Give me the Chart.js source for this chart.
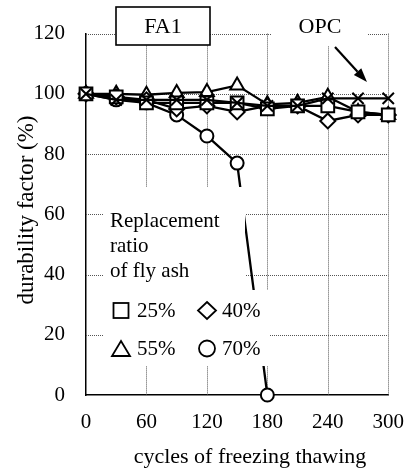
<!DOCTYPE html>
<html>
<head>
<meta charset="utf-8">
<script src="https://cdn.jsdelivr.net/npm/chart.js@4/dist/chart.umd.min.js"></script>
<style>
  html, body { margin: 0; padding: 0; background: #fff; }
  #c { display: block; }
</style>
</head>
<body>
<canvas id="c" width="419" height="473"></canvas>
<script>
// ---- data ----
const cycles = [0, 30, 60, 90, 120, 150, 180, 210, 240, 270, 300];
const fa25 = [100, 99, 97, 97, 97, 97, 95, 96, 96, 94, 93];
const fa40 = [100, 99, 98, 95, 96, 94, 96, 96, 91, 93, 93];
const fa55 = [100, 100, 99.7, 100.3, 100.6, 102.8, 96.5, 97, 99, 94, 93];
const fa70 = [100, 98, 97, 93, 86, 77, 0];
const opc = [100, 98, 98, 98, 98, 97, 96, 96, 98.5, 98.5, 98.5];
const xTicks = [0, 60, 120, 180, 240, 300];
const yTicks = [0, 20, 40, 60, 80, 100, 120];
const legendItems = ['25%', '40%', '55%', '70%'];
const xTitle = 'cycles of freezing thawing';
const yTitle = 'durability factor (%)';

const FONT = 'Liberation Serif, Times New Roman, serif';
const pts = arr => arr.map((v, i) => ({ x: cycles[i], y: v }));

function ds(label, arr, style, r) {
  return {
    label, data: pts(arr), borderColor: '#000', borderWidth: 2.3,
    pointStyle: style, pointRadius: r, pointHoverRadius: r,
    pointBackgroundColor: '#fff', pointBorderColor: '#000', pointBorderWidth: 2,
    tension: 0, clip: false
  };
}

const gridPlugin = {
  id: 'dotgrid',
  beforeDatasetsDraw(chart) {
    const ctx = chart.ctx;
    const xs = chart.scales.x, ys = chart.scales.y;
    const a = chart.chartArea;
    ctx.save();
    ctx.strokeStyle = '#555';
    ctx.lineWidth = 1;
    ctx.setLineDash([1, 1]);
    xTicks.forEach(v => {
      if (v === 0) return;
      const px = Math.round(xs.getPixelForValue(v)) + 0.5;
      ctx.beginPath(); ctx.moveTo(px, a.top); ctx.lineTo(px, a.bottom); ctx.stroke();
    });
    yTicks.forEach(v => {
      if (v === 0) return;
      const py = Math.round(ys.getPixelForValue(v)) + 0.5;
      ctx.beginPath(); ctx.moveTo(a.left, py); ctx.lineTo(a.right, py); ctx.stroke();
    });
    ctx.restore();
  }
};

const overlay = {
  id: 'overlay',
  afterDatasetsDraw(chart) {
    const ctx = chart.ctx;
    ctx.save();
    // axis titles
    ctx.fillStyle = '#000';
    ctx.font = '22px ' + FONT;
    ctx.textAlign = 'center';
    ctx.textBaseline = 'middle';
    ctx.fillText(xTitle, 250, 457);
    ctx.save();
    ctx.font = '23px ' + FONT;
    ctx.translate(27, 210);
    ctx.rotate(-Math.PI / 2);
    ctx.fillText(yTitle, 0, 0);
    ctx.restore();

    // legend white areas
    ctx.fillStyle = '#fff';
    ctx.fillRect(103, 187, 142, 103);
    ctx.fillRect(103, 290, 166, 76);
    ctx.fillStyle = '#000';
    ctx.font = '21px ' + FONT;
    ctx.textBaseline = 'middle';
    ctx.textAlign = 'left';
    ctx.fillText('Replacement', 110, 221);
    ctx.fillText('ratio', 110, 246);
    ctx.fillText('of fly ash', 110, 271);
    // legend markers
    ctx.strokeStyle = '#000';
    ctx.lineWidth = 1.8;
    ctx.strokeRect(113.5, 303, 15, 15);
    ctx.beginPath();
    ctx.moveTo(207, 302); ctx.lineTo(216, 310.5); ctx.lineTo(207, 319); ctx.lineTo(198, 310.5); ctx.closePath();
    ctx.stroke();
    ctx.beginPath();
    ctx.moveTo(121, 341); ctx.lineTo(130, 356); ctx.lineTo(112, 356); ctx.closePath();
    ctx.stroke();
    ctx.beginPath();
    ctx.arc(207, 348.5, 8, 0, Math.PI * 2);
    ctx.stroke();
    ctx.fillText(legendItems[0], 137, 311);
    ctx.fillText(legendItems[1], 222, 311);
    ctx.fillText(legendItems[2], 137, 349);
    ctx.fillText(legendItems[3], 222, 349);

    // FA1 box
    ctx.fillStyle = '#fff';
    ctx.fillRect(116, 7, 94, 38);
    ctx.lineWidth = 1.6;
    ctx.strokeRect(116, 7, 94, 38);
    ctx.fillStyle = '#000';
    ctx.font = '22px ' + FONT;
    ctx.textAlign = 'center';
    ctx.fillText('FA1', 163, 27);

    // OPC label
    ctx.fillStyle = '#fff';
    ctx.fillRect(271, 0, 97, 46);
    ctx.fillStyle = '#000';
    ctx.fillText('OPC', 320, 27);
    // arrow
    const x0 = 335, y0 = 47, x1 = 367, y1 = 82;
    const ang = Math.atan2(y1 - y0, x1 - x0);
    const hl = 14, hw = 5;
    const bx = x1 - hl * Math.cos(ang), by = y1 - hl * Math.sin(ang);
    ctx.lineWidth = 2.2;
    ctx.beginPath(); ctx.moveTo(x0, y0); ctx.lineTo(bx, by); ctx.stroke();
    ctx.beginPath();
    ctx.moveTo(x1, y1);
    ctx.lineTo(bx + hw * Math.sin(ang), by - hw * Math.cos(ang));
    ctx.lineTo(bx - hw * Math.sin(ang), by + hw * Math.cos(ang));
    ctx.closePath(); ctx.fill();
    ctx.restore();
  }
};

new Chart(document.getElementById('c'), {
  type: 'line',
  data: {
    datasets: [
      ds('OPC', opc, 'crossRot', 8),
      ds('25%', fa25, 'rect', 9),
      ds('40%', fa40, 'rectRot', 7.5),
      ds('55%', fa55, 'triangle', 8),
      ds('70%', fa70, 'circle', 6.5)
    ]
  },
  options: {
    responsive: false,
    animation: false,
    events: [],
    layout: { padding: { top: 16, right: 23, left: 0, bottom: 0 } },
    plugins: { legend: { display: false }, tooltip: { enabled: false } },
    scales: {
      x: {
        type: 'linear', min: 0, max: 300,
        afterBuildTicks: s => { s.ticks = xTicks.map(v => ({ value: v })); },
        afterFit: s => { s.height = 78; },
        grid: { display: false, drawTicks: false },
        border: { color: '#000', width: 1.5 },
        ticks: { color: '#000', padding: 15, font: { family: FONT, size: 21, lineHeight: 1.2 }, maxRotation: 0 }
      },
      y: {
        type: 'linear', min: 0, max: 120,
        afterBuildTicks: s => { s.ticks = yTicks.map(v => ({ value: v })); },
        afterFit: s => { s.width = 86; },
        grid: { display: false, drawTicks: false },
        border: { color: '#000', width: 1.5 },
        ticks: { color: '#000', padding: 21, font: { family: FONT, size: 21, lineHeight: 1.2 } }
      }
    }
  },
  plugins: [gridPlugin, overlay]
});
</script>
</body>
</html>
